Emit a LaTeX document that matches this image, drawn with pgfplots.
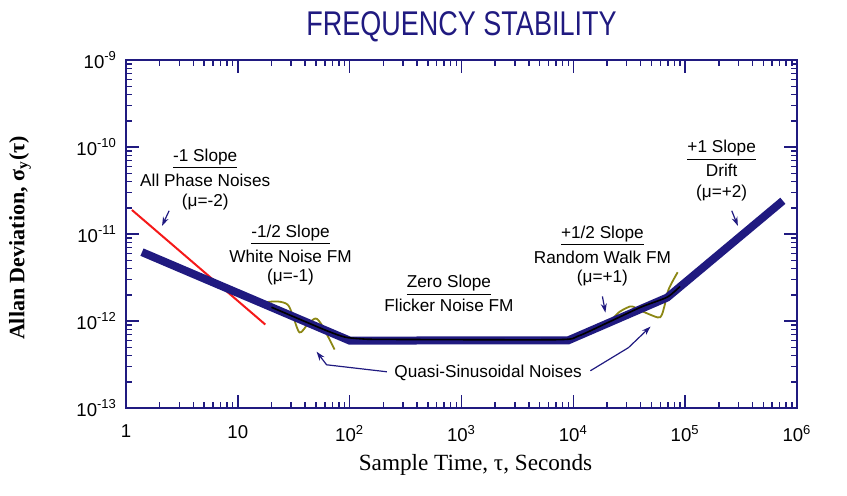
\documentclass[border=0pt]{standalone}
\usepackage{fontspec}
\setmainfont{Liberation Sans}
\newfontfamily\seriffont{Liberation Serif}
\usepackage{graphicx}
\usepackage{pgfplots}
\pgfplotsset{compat=1.18}
\usetikzlibrary{arrows.meta}
\definecolor{navy}{RGB}{32,26,128}
\definecolor{olivec}{RGB}{140,135,20}
\definecolor{redc}{RGB}{245,25,25}
\newcommand{\annfont}{\fontsize{8.6}{10}\selectfont}
\newcommand{\lbl}[3]{\node[font=\annfont, inner sep=0pt] at (axis cs:#1,#2) {#3};}
\newcommand{\ex}[1]{10\textsuperscript{#1}}
\begin{document}
\begin{tikzpicture}
\begin{axis}[
  xmode=log, ymode=log,
  scale only axis,
  width=335.5pt, height=174pt,
  xmin=1, xmax=1e6, ymin=1e-13, ymax=1e-9,
  axis line style={navy, line width=1.1pt},
  every tick/.style={navy, line width=0.7pt},
  major tick length=6.5pt, minor tick length=3.2pt,
  tick align=inside,
  xtick={1,10,100,1000,10000,100000,1000000},
  xticklabels={1,10,\ex{2},\ex{3},\ex{4},\ex{5},\ex{6}},
  ytick={1e-13,1e-12,1e-11,1e-10,1e-9},
  yticklabels={\ex{-13},\ex{-12},\ex{-11},\ex{-10},\ex{-9}},
  minor xtick={2,3,4,5,6,7,8,9,20,30,40,50,60,70,80,90,200,300,400,500,600,700,800,900,2000,3000,4000,5000,6000,7000,8000,9000,20000,30000,40000,50000,60000,70000,80000,90000,200000,300000,400000,500000,600000,700000,800000,900000},
  minor ytick={2e-13,3e-13,4e-13,5e-13,6e-13,7e-13,8e-13,9e-13,2e-12,3e-12,4e-12,5e-12,6e-12,7e-12,8e-12,9e-12,2e-11,3e-11,4e-11,5e-11,6e-11,7e-11,8e-11,9e-11,2e-10,3e-10,4e-10,5e-10,6e-10,7e-10,8e-10,9e-10},
  ticklabel style={font=\fontsize{9.3}{11}\selectfont, black},
  xticklabel style={yshift=-5pt},
  yticklabel style={xshift=-1pt},
  title={\scalebox{1}[1.27]{FREQUENCY STABILITY}},
  title style={font=\fontsize{13.5}{16}\selectfont, text=navy, at={(axis description cs:0.5,1)}, anchor=base, yshift=6.5pt},
  xlabel={Sample Time, τ, Seconds},
  xlabel style={font=\seriffont\fontsize{11.6}{13}\selectfont, at={(axis description cs:0.5,0)}, anchor=base, yshift=-31pt, xshift=7pt},
  ylabel={\textbf{Allan Deviation, σ\textsubscript{y}(τ)}},
  ylabel style={font=\seriffont\fontsize{11}{13}\selectfont, at={(axis description cs:0,0.5)}, anchor=center, yshift=53pt, xshift=-2pt},
  clip=false,
]
% -1 slope (all phase noises)
\addplot[redc, line width=1pt] coordinates {(1.13,1.89e-11) (17.6,9.12e-13)};
% quasi-sinusoidal noises
\addplot[olivec, line width=0.9pt, smooth] coordinates {
 (17.3,1.64e-12) (22.6,1.68e-12) (27.8,1.55e-12) (30.8,1.19e-12) (35.6,7.4e-13)
 (42.0,9.1e-13) (49.5,1.07e-12) (56.1,9.1e-13) (66.2,6.1e-13) (73.3,4.7e-13)};
\addplot[olivec, line width=0.9pt, smooth] coordinates {
 (21480,9.9e-13) (25350,1.25e-12) (30500,1.43e-12) (33800,1.47e-12) (41600,1.29e-12)
 (56700,1.10e-12) (61500,1.16e-12) (65500,1.51e-12) (71100,2.31e-12) (85700,3.64e-12)};
% asymptotic model
\addplot[navy, line width=4pt] coordinates {
 (1.39,6.19e-12) (100,5.96e-13) (9020,6.0e-13) (69000,1.86e-12) (748000,2.41e-11)};
% measured-like curve
\addplot[black, line width=0.8pt, smooth, tension=0.4] coordinates {
 (20,1.44e-12) (60,7.9e-13) (90,6.55e-13) (125,6.25e-13) (200,6.15e-13) (7000,6.1e-13)
 (11000,6.7e-13) (20000,9.5e-13) (40000,1.44e-12) (69000,1.88e-12) (90000,2.5e-12)};
% annotations
\lbl{5.11}{7.36e-11}{\underline{-1 Slope}}
\lbl{5.11}{4.10e-11}{All Phase Noises}
\lbl{5.11}{2.34e-11}{(μ=-2)}
\lbl{29.6}{9.74e-12}{\underline{-1/2 Slope}}
\lbl{29.6}{5.57e-12}{White Noise FM}
\lbl{29.6}{3.18e-12}{(μ=-1)}
\lbl{773}{2.57e-12}{\underline{Zero Slope}}
\lbl{773}{1.51e-12}{Flicker Noise FM}
\lbl{18200}{9.48e-12}{\underline{+1/2 Slope}}
\lbl{18200}{5.42e-12}{Random Walk FM}
\lbl{18200}{3.10e-12}{(μ=+1)}
\lbl{212000}{9.12e-11}{\underline{+1 Slope}}
\lbl{212000}{5.35e-11}{Drift}
\lbl{212000}{2.98e-11}{(μ=+2)}
\lbl{1729}{2.54e-13}{Quasi-Sinusoidal Noises}
% arrows
\draw[navy, line width=0.6pt, -{Stealth[length=4.5pt,width=3pt]}] (axis cs:2.43,1.85e-11) -- (axis cs:2.10,1.24e-11);
\draw[navy, line width=0.6pt, -{Stealth[length=4.5pt,width=3pt]}] (axis cs:261000,1.85e-11) -- (axis cs:296000,1.24e-11);
\draw[navy, line width=0.6pt, -{Stealth[length=4.5pt,width=3pt]}] (axis cs:18200,1.92e-12) -- (axis cs:19360,1.25e-12);
\draw[navy, line width=0.6pt, -{Stealth[length=4.5pt,width=3pt]}] (axis cs:215,2.61e-13) -- (axis cs:62.2,3.14e-13) -- (axis cs:50.6,4.44e-13);
\draw[navy, line width=0.6pt, -{Stealth[length=4.5pt,width=3pt]}] (axis cs:14200,2.68e-13) -- (axis cs:31100,4.94e-13) -- (axis cs:49000,8.63e-13);
\end{axis}
\pgfresetboundingbox
\path (-63pt,-43.5pt) rectangle (360.5pt,204pt);
\end{tikzpicture}
\end{document}
